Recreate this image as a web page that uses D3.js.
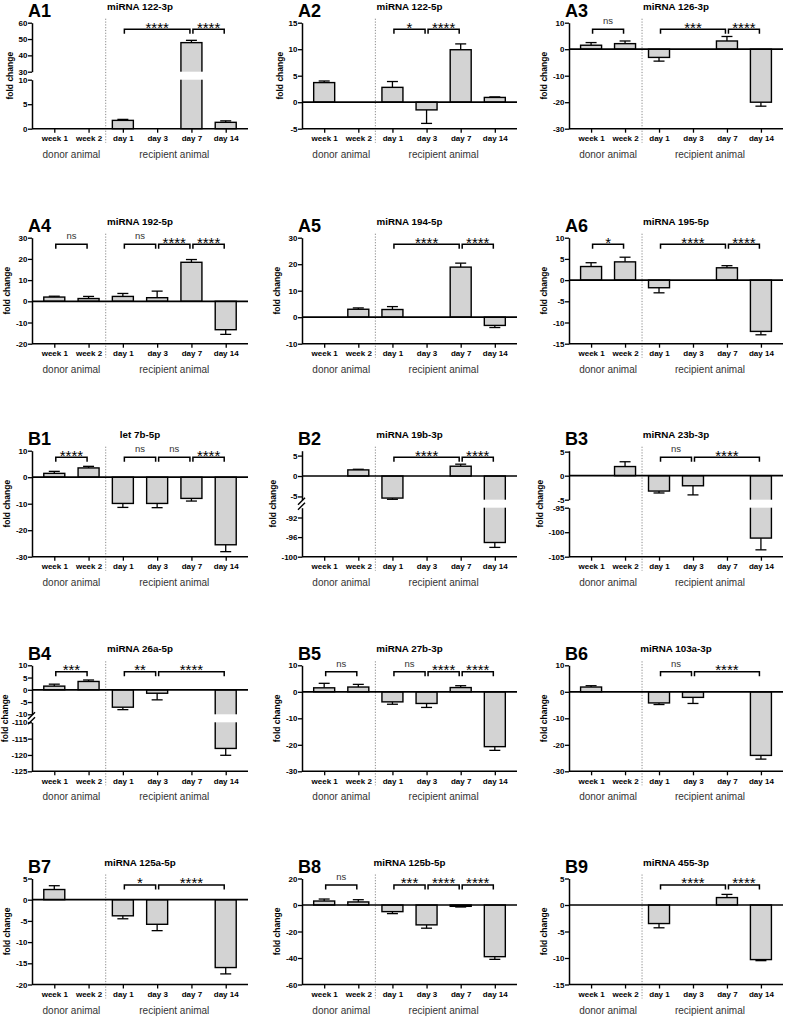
<!DOCTYPE html>
<html><head><meta charset="utf-8">
<script src="https://cdn.jsdelivr.net/npm/d3@7"></script>
<style>body{margin:0;background:#fff} svg{display:block}</style>
</head><body>
<svg id="c" width="787" height="1017"></svg>
<script>
const categories = ["week 1","week 2","day 1","day 3","day 7","day 14"];
const groupLabels = ["donor animal","recipient animal"];
const panelIds = ["A1","A2","A3","A4","A5","A6","B1","B2","B3","B4","B5","B6","B7","B8","B9"];
const titles = ["miRNA 122-3p","miRNA 122-5p","miRNA 126-3p","miRNA 192-5p","miRNA 194-5p","miRNA 195-5p",
  "let 7b-5p","miRNA 19b-3p","miRNA 23b-3p","miRNA 26a-5p","miRNA 27b-3p","miRNA 103a-3p",
  "miRNA 125a-5p","miRNA 125b-5p","miRNA 455-3p"];
const means = [
  [null,null,1.7,null,47.8,1.3],
  [3.7,null,2.8,-1.45,9.9,0.9],
  [1.5,2.1,-3.1,null,3.1,-20],
  [2.0,1.3,2.3,1.7,18.4,-13.4],
  [null,3.0,2.9,null,18.9,-3.1],
  [3.2,4.3,-1.8,null,2.9,-12.1],
  [1.45,3.5,-9.9,-9.9,-8.0,-25.5],
  [null,1.5,-5.4,null,2.4,-97.1],
  [null,1.9,-3.2,-2.1,null,-101.2],
  [1.5,3.4,-7.1,-1.4,null,-118],
  [1.5,1.8,-3.8,-4.4,1.6,-20.7],
  [1.8,null,-4.2,-2.1,null,-24],
  [2.4,null,-3.8,-5.8,null,-16],
  [3,2.3,-5,-15,-1,-39],
  [null,null,-3.5,null,1.4,-10.3]
];
const errors = [
  [null,null,0.2,null,1.4,0.3],
  [0.3,null,1.1,2.55,1.1,0.1],
  [1.0,1.0,1.4,null,1.7,1.5],
  [0.4,1.0,1.4,3.1,1.3,2.2],
  [null,0.5,1.1,null,1.5,0.8],
  [0.9,1.1,1.2,null,0.5,0.8],
  [0.75,0.6,1.5,1.6,1.0,2.6],
  [null,0.15,0.3,null,0.5,1.0],
  [null,1.0,0.4,1.9,null,2.4],
  [0.8,0.6,1.0,2.7,null,2.1],
  [1.7,1.0,0.9,1.5,0.7,1.4],
  [0.5,null,0.6,2.3,null,1.4],
  [0.9,null,0.7,1.5,null,1.5],
  [1.5,1.7,1.5,2.5,0.5,2],
  [null,null,0.8,null,0.6,0.2]
];
const yDomains = [
  [[30,60],[0,10]], [[-5,15]], [[-30,10]], [[-20,30]], [[-10,30]], [[-15,10]],
  [[-30,10]], [[-5.8,6.2],[-100,-90]], [[-5,5.2],[-105,-95]], [[-10,10],[-125,-110]], [[-30,10]], [[-30,10]],
  [[-20,5]], [[-60,20]], [[-15,5]]
];
const yTicks = [
  [[30,40,50,60],[0,5,10]], [[-5,0,5,10,15]], [[-30,-20,-10,0,10]], [[-20,-10,0,10,20,30]], [[-10,0,10,20,30]], [[-15,-10,-5,0,5,10]],
  [[-30,-20,-10,0,10]], [[-5,0,5],[-100,-96,-92]], [[-5,0,5],[-105,-100,-95]], [[-10,-5,0,5,10],[-125,-120,-115,-110]], [[-30,-20,-10,0,10]], [[-30,-20,-10,0,10]],
  [[-20,-15,-10,-5,0,5]], [[-60,-40,-20,0,20]], [[-15,-10,-5,0,5]]
];
const brackets = [
  [[2,4,"****"],[4,5,"****"]],
  [[2,3,"*"],[3,4,"****"]],
  [[0,1,"ns"],[2,4,"***"],[4,5,"****"]],
  [[0,1,"ns"],[2,3,"ns"],[3,4,"****"],[4,5,"****"]],
  [[2,4,"****"],[4,5,"****"]],
  [[0,1,"*"],[2,4,"****"],[4,5,"****"]],
  [[0,1,"****"],[2,3,"ns"],[3,4,"ns"],[4,5,"****"]],
  [[2,4,"****"],[4,5,"****"]],
  [[2,3,"ns"],[3,5,"****"]],
  [[0,1,"***"],[2,3,"**"],[3,5,"****"]],
  [[0,1,"ns"],[2,3,"ns"],[3,4,"****"],[4,5,"****"]],
  [[2,3,"ns"],[3,5,"****"]],
  [[2,3,"*"],[3,5,"****"]],
  [[0,1,"ns"],[2,3,"***"],[3,4,"****"],[4,5,"****"]],
  [[2,4,"****"],[4,5,"****"]]
];
const breakSlash = [false,false,false,false,false,false,false,true,false,true,false,false,false,false,false];

// layout
const rowTops = [22.7, 237.7, 450.7, 665.3, 878.5];
const colX = [0, 262, 524];
const axisOff = [32, 40, 45];
const plotW = [216, 215, 214];
const H = 106, GAP = 8, BW = 21, CAP = 11;
const FONT = "'Liberation Sans', Arial, Helvetica, sans-serif";

const svg = d3.select("#c");
svg.append("rect").attr("width",787).attr("height",1017).attr("fill","#fff");

function styleAxis(ax){
  ax.attr("font-size",null).attr("font-family",null);
  ax.select(".domain").attr("stroke","#000").attr("stroke-width",1.5);
  ax.selectAll(".tick line").attr("stroke","#000").attr("stroke-width",1.3);
  ax.selectAll(".tick text").attr("fill","#000").style("font-family",FONT)
    .style("font-size","8px").style("font-weight","bold");
}

panelIds.forEach((id,i)=>{
  const r = Math.floor(i/3), c = i%3;
  const L = colX[c] + axisOff[c], W = plotW[c], T = rowTops[r], B = T + H;
  const g = svg.append("g");
  const segs = yDomains[i];
  const n = segs.length;
  const segH = (H - GAP*(n-1))/n;
  const scales = segs.map((d,k)=> d3.scaleLinear().domain(d).range([T+k*(segH+GAP)+segH, T+k*(segH+GAP)]));
  const gaps = [];
  for(let k=0;k<n-1;k++) gaps.push([scales[k].range()[0], scales[k+1].range()[1]]);
  function y(v){
    for(const s of scales){ const d=s.domain(); if(v>=d[0]-1e-9 && v<=d[1]+1e-9) return s(v); }
    if(v > scales[0].domain()[1]) return scales[0](v);
    if(v < scales[n-1].domain()[0]) return scales[n-1](v);
    for(let k=0;k<n-1;k++){
      if(v < scales[k].domain()[0] && v > scales[k+1].domain()[1]) return (gaps[k][0]+gaps[k][1])/2;
    }
    return scales[0](v);
  }
  const x = d3.scalePoint().domain(categories).range([L, L+W]).padding(0.65);

  // divider
  const xd = (x(categories[1]) + x(categories[2]))/2;
  g.append("line").attr("x1",xd).attr("x2",xd).attr("y1",T-4).attr("y2",B+14)
    .attr("stroke","#8a8a8a").attr("stroke-width",1).attr("stroke-dasharray","1.2,1.6");

  // bars
  const data = categories.map((cat,j)=>({cat, v:means[i][j], e:errors[i][j]})).filter(d=>d.v!==null);
  const y0 = y(0);
  data.forEach(d=>{
    const yv = y(d.v);
    const dir = d.v >= 0 ? 1 : -1;
    const ye = y(d.v + dir*(d.e||0));
    const cx = x(d.cat);
    if(d.e){
      g.append("line").attr("x1",cx).attr("x2",cx).attr("y1",yv).attr("y2",ye).attr("stroke","#000").attr("stroke-width",1.3);
      g.append("line").attr("x1",cx-CAP/2).attr("x2",cx+CAP/2).attr("y1",ye).attr("y2",ye).attr("stroke","#000").attr("stroke-width",1.3);
    }
    g.append("rect").attr("x",cx-BW/2).attr("y",Math.min(y0,yv)).attr("width",BW).attr("height",Math.abs(yv-y0))
      .attr("fill","#d3d3d3").attr("stroke","#000").attr("stroke-width",1.4);
    gaps.forEach(gp=>{
      const top = Math.min(y0,yv), bot = Math.max(y0,yv);
      if(top < gp[0] && bot > gp[1]){
        g.append("rect").attr("x",cx-BW/2-1.5).attr("y",gp[0]).attr("width",BW+3).attr("height",gp[1]-gp[0]).attr("fill","#fff");
      }
    });
  });

  // zero line
  if(Math.abs(y0 - B) > 0.5){
    g.append("line").attr("x1",L).attr("x2",L+W).attr("y1",y0).attr("y2",y0).attr("stroke","#000").attr("stroke-width",1.7);
  }

  // y axes
  let maxW = 0;
  scales.forEach((s,k)=>{
    const ax = g.append("g").attr("transform",`translate(${L},0)`)
      .call(d3.axisLeft(s).tickValues(yTicks[i][k]).tickSize(4).tickSizeOuter(0).tickPadding(0.5).tickFormat(d=>String(d)));
    styleAxis(ax);
    ax.selectAll(".tick text").each(function(){ maxW = Math.max(maxW, this.getComputedTextLength()); });
  });
  if(breakSlash[i]){
    gaps.forEach(gp=>{
      [gp[0]+1.5, gp[1]-1.5].forEach(yy=>{
        g.append("line").attr("x1",L-4).attr("x2",L+3).attr("y1",yy+3.5).attr("y2",yy-3.5)
          .attr("stroke","#000").attr("stroke-width",1.4);
      });
    });
  }

  // x axis
  const xa = g.append("g").attr("transform",`translate(0,${B})`)
    .call(d3.axisBottom(x).tickSize(4).tickSizeOuter(0).tickPadding(3));
  styleAxis(xa);
  xa.select(".domain").attr("d",`M${L},0H${L+W}`);

  // y label
  const ylx = Math.max(L - 4.5 - maxW - 5.7, 7.5);
  g.append("text").attr("transform",`translate(${ylx},${(T+B)/2}) rotate(-90)`)
    .attr("text-anchor","middle").style("font-family",FONT).style("font-size","8.5px").style("font-weight","bold")
    .text("fold change");

  // group labels
  g.append("text").attr("x",(x(categories[0])+x(categories[1]))/2).attr("y",B+29).attr("text-anchor","middle")
    .style("font-family",FONT).style("font-size","10px").attr("fill","#333").text(groupLabels[0]);
  g.append("text").attr("x",(x(categories[2])+x(categories[5]))/2).attr("y",B+29).attr("text-anchor","middle")
    .style("font-family",FONT).style("font-size","10px").attr("fill","#333").text(groupLabels[1]);

  // title
  g.append("text").attr("x",L+W/2).attr("y",T-13).attr("text-anchor","middle")
    .style("font-family",FONT).style("font-size","9.8px").style("font-weight","bold").text(titles[i]);
  // panel id
  g.append("text").attr("x",L-4).attr("y",T-5.6)
    .style("font-family",FONT).style("font-size","18px").style("font-weight","bold").text(id);

  // brackets
  const yb = T + 6.5;
  brackets[i].forEach(([a,b,lab])=>{
    const x1 = x(categories[a]) + 1.5, x2 = x(categories[b]) - 1.5;
    g.append("path").attr("d",`M${x1},${yb+4.5}V${yb}H${x2}V${yb+4.5}`)
      .attr("fill","none").attr("stroke","#000").attr("stroke-width",1.5);
    const isNs = lab === "ns";
    g.append("text").attr("x",(x1+x2)/2).attr("y", isNs ? yb-5 : yb+3.3).attr("text-anchor","middle")
      .style("font-family",FONT).style("font-size", isNs ? "9.5px" : "15px")
      .attr("fill", isNs ? "#333" : "#000").text(lab);
  });
});
</script>
</body></html>
